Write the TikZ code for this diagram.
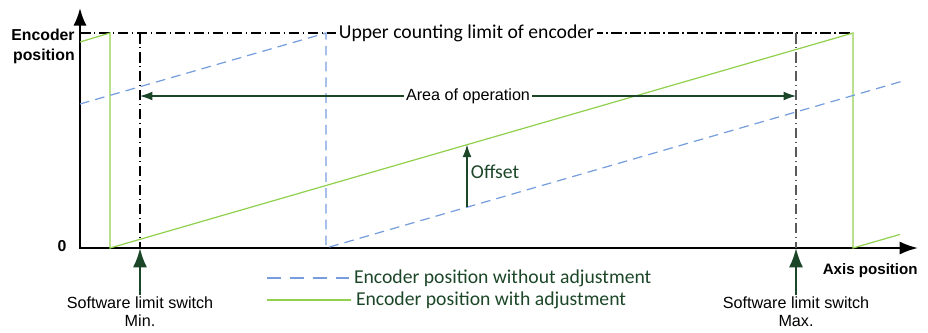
\documentclass[tikz,border=0pt]{standalone}
\usepackage{fontspec}
\setmainfont{Liberation Sans}
\newfontfamily\calibfont{Carlito}
\usetikzlibrary{arrows.meta}

\definecolor{encblue}{RGB}{118,158,222}
\definecolor{encgreen}{RGB}{146,208,80}
\definecolor{darkgreen}{RGB}{28,70,40}

\tikzset{
	axes/.style={line width=1.3pt,{Latex[length=10pt,width=7.5pt]}-{Latex[length=10.5pt,width=7.5pt]}},
	rawpos/.style={encblue,line width=0.7pt,dash pattern=on 5.5pt off 3.5pt},
	adjpos/.style={encgreen,line width=0.7pt},
	limitline/.style={line width=0.6pt,dash pattern=on 6pt off 2pt on 0.8pt off 2pt},
	swarrow/.style={darkgreen,line width=1.3pt,-{Latex[length=11pt,width=8pt]}},
	opnarrow/.style={darkgreen,line width=0.6pt,{Latex[length=7pt,width=5pt]}-{Latex[length=7pt,width=5pt]}},
	sidelabel/.style={font=\fontsize{9}{11.3}\selectfont\bfseries,inner sep=0pt},
	swlabel/.style={font=\fontsize{9.2}{9.8}\selectfont,align=center,anchor=north,inner sep=1pt},
	greentext/.style={darkgreen,font=\calibfont\fontsize{11.2}{13}\selectfont},
}

\begin{document}
\begin{tikzpicture}[x=0.02cm,y=-0.02cm]
	\useasboundingbox (0,0) rectangle (928,332);
	
	% axes
	\coordinate (O) at (80,248);
	\coordinate (ytip) at (80,8);
	\coordinate (xtip) at (918,248);
	\draw [axes] (ytip) -- (O) -- (xtip);
	\node [sidelabel,align=right,anchor=east] (ylab) at (75,46) {Encoder\\position};
	\node [sidelabel] (zero) at (62,246) {0};
	\node [sidelabel,anchor=east,font=\fontsize{8.6}{10}\selectfont\bfseries] (xlab) at (918,271) {Axis position};
	
	% upper counting limit
	\coordinate (top0) at (80,33); \coordinate (top1) at (853,33);
	\draw [limitline] (top0) -- (top1)
		node [midway,fill=white,inner sep=1.5pt,font=\calibfont\fontsize{11.2}{13}\selectfont] (upper) {Upper counting limit of encoder};
	
	% encoder position with adjustment
	\draw [adjpos] (80,42) -- (110,33) -- (110,248) -- (853,33) -- (853,248) -- (900,234.4);
	% encoder position without adjustment
	\draw [rawpos] (80,104) -- (326,33) -- (326,248) -- (903,81);
	
	% software limit switches
	\coordinate (minT) at (140,33); \coordinate (minB) at (140,248);
	\coordinate (maxT) at (796,33); \coordinate (maxB) at (796,248);
	\draw [limitline] (minT) -- (minB);
	\draw [limitline,line width=1.1pt,black!65] (maxT) -- (maxB);
	
	\draw [opnarrow] (140,96) -- (796,96)
		node [midway,fill=white,text=black,inner sep=1pt,font=\fontsize{9.2}{11}\selectfont] (area) {Area of operation};
	
	\node [swlabel] (minlab) at (140,295) {Software limit switch\\Min.};
	\node [swlabel] (maxlab) at (796,295) {Software limit switch\\Max.};
	\draw [swarrow] (minlab.north) -- (minB);
	\draw [swarrow] (maxlab.north) -- (maxB);
	
	% offset
	\coordinate (offlo) at (467,207.2); \coordinate (offhi) at (467,144.7);
	\draw [darkgreen,line width=0.6pt,-{Latex[length=7pt,width=5pt]}] (offlo) -- (offhi);
	\node [greentext,anchor=west,inner sep=1.5pt] (offset) at (468,172) {Offset};
	
	% legend
	\coordinate (l1a) at (267,278); \coordinate (l1b) at (349,278);
	\coordinate (l2a) at (267,300); \coordinate (l2b) at (351,300);
	\draw [rawpos,dash pattern=on 8pt off 5pt] (l1a) -- (l1b)
		node [greentext,right,inner sep=2.5pt] (leg1) {Encoder position without adjustment};
	\draw [adjpos] (l2a) -- (l2b)
		node [greentext,right,inner sep=2.5pt] (leg2) {Encoder position with adjustment};
\end{tikzpicture}
\end{document}
